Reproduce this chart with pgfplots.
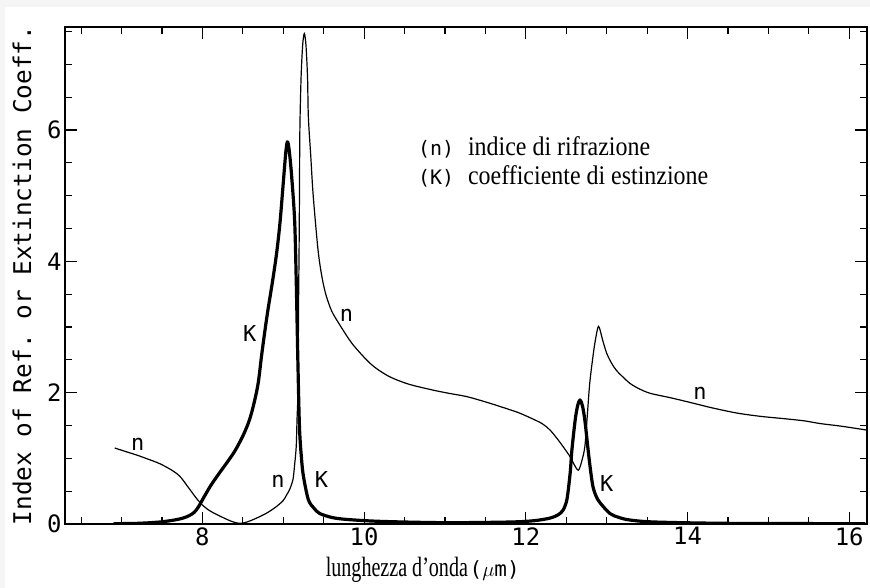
\documentclass[border=0pt]{standalone}
\usepackage{fontspec}
\setmainfont{Liberation Serif}
\setmonofont{DejaVu Sans Mono}
\usepackage{graphicx}
\usepackage{pgfplots}
\pgfplotsset{compat=1.18}

\pgfplotstableread{
x y
6.915 1.157
7.06 1.10
7.20 1.045
7.30 1.00
7.40 0.955
7.47 0.92
7.55 0.87
7.62 0.82
7.68 0.77
7.74 0.70
7.80 0.60
7.86 0.50
7.92 0.40
7.99 0.30
8.08 0.21
8.20 0.13
8.36 0.04
8.46 0.01
8.55 0.03
8.67 0.09
8.80 0.17
8.92 0.27
9.00 0.36
9.04 0.44
9.08 0.53
9.12 0.68
9.14 0.90
9.16 1.18
9.17 1.60
9.18 1.94
9.185 2.6
9.19 3.5
9.195 4.12
9.20 5.0
9.205 6.0
9.22 6.8
9.24 7.3
9.26 7.47
9.28 7.3
9.30 6.8
9.31 6.2
9.34 5.6
9.37 5.0
9.43 4.17
9.48 3.75
9.53 3.48
9.60 3.24
9.70 3.03
9.85 2.75
10.03 2.50
10.15 2.37
10.32 2.24
10.55 2.13
10.85 2.04
11.05 1.99
11.27 1.94
11.50 1.86
11.68 1.79
11.90 1.70
12.05 1.62
12.20 1.53
12.30 1.43
12.40 1.28
12.46 1.18
12.55 1.02
12.60 0.90
12.65 0.82
12.69 0.95
12.73 1.18
12.76 1.65
12.79 2.14
12.83 2.55
12.86 2.80
12.90 3.01
12.95 2.80
13.00 2.60
13.06 2.45
13.12 2.34
13.20 2.24
13.29 2.14
13.40 2.06
13.54 1.99
13.80 1.92
14.07 1.84
14.30 1.77
14.61 1.69
14.90 1.64
15.23 1.60
15.45 1.57
15.64 1.53
15.90 1.49
16.22 1.43
}\ndata

\pgfplotstableread{
x y
6.90 0.005
7.20 0.01
7.47 0.03
7.65 0.06
7.76 0.09
7.84 0.13
7.90 0.18
7.95 0.26
8.01 0.39
8.10 0.58
8.20 0.76
8.30 0.93
8.40 1.11
8.50 1.34
8.58 1.58
8.64 1.85
8.69 2.15
8.73 2.55
8.77 2.92
8.81 3.26
8.87 3.72
8.92 4.15
8.96 4.60
9.00 5.20
9.03 5.65
9.05 5.82
9.07 5.72
9.10 5.35
9.14 4.63
9.16 3.71
9.18 2.50
9.20 1.48
9.225 1.00
9.25 0.72
9.31 0.37
9.38 0.24
9.45 0.16
9.60 0.10
9.78 0.07
10.20 0.04
11.00 0.02
11.80 0.03
12.10 0.05
12.30 0.09
12.40 0.14
12.46 0.21
12.50 0.33
12.52 0.47
12.55 0.80
12.57 1.13
12.61 1.58
12.64 1.80
12.67 1.89
12.70 1.80
12.73 1.58
12.77 1.13
12.80 0.82
12.83 0.57
12.87 0.42
12.92 0.32
13.04 0.16
13.15 0.10
13.29 0.06
13.60 0.03
14.50 0.01
16.20 0.005
}\kdata

\begin{document}
\begin{tikzpicture}[x=1bp,y=1bp]
\fill[gray!8] (-65,-64) rectangle (805,524);
\fill[white] (-60,-64) rectangle (805,517);
\begin{axis}[
  scale only axis, width=802bp, height=497bp,
  xmin=6.3, xmax=16.22, ymin=0, ymax=7.57,
  xtick={8,10,12,14,16}, minor xtick={6.5,7,...,16},
  ytick={0,2,4,6}, minor ytick={0.5,1,...,7.5},
  tick align=inside, major tick length=12bp, minor tick length=7bp,
  every tick/.style={black, line width=1.2bp},
  axis line style={line width=1.6bp},
  tick label style={font=\ttfamily\fontsize{24}{24}\selectfont},
  /pgf/number format/assume math mode=true,
  ylabel={Index of Ref. or Extinction Coeff.},
  ylabel style={font=\ttfamily\fontsize{24.5}{24.5}\selectfont, at={(axis description cs:-0.0536,0.5)}, anchor=center},
  xlabel={\scalebox{0.72}[1]{\fontsize{28}{28}\selectfont lunghezza d’onda}\,{\ttfamily\fontsize{21}{21}\selectfont(}{\fontsize{22}{22}\selectfont$\mu$}{\ttfamily\fontsize{21}{21}\selectfont m)}},
  xlabel style={at={(axis description cs:0.446,0)}, anchor=base, yshift=-53bp},
]
\addplot[black, line width=1.2bp, smooth, tension=0.5] table {\ndata};
\addplot[black, line width=3.2bp, line join=round, smooth, tension=0.5] table {\kdata};

\begin{scope}[every node/.style={font=\ttfamily\fontsize{22}{22}\selectfont, inner sep=0pt}]
\node at (axis cs:7.20,1.21) {n};
\node at (axis cs:8.585,2.90) {K};
\node at (axis cs:8.935,0.644) {n};
\node at (axis cs:9.473,0.67) {K};
\node at (axis cs:9.78,3.18) {n};
\node at (axis cs:14.155,1.99) {n};
\node at (axis cs:13.0,0.62) {K};
\end{scope}

\node[anchor=base west, inner sep=0pt, font=\ttfamily\fontsize{20}{20}\selectfont] at (axis cs:10.665,5.62) {(n)};
\node[anchor=base west, inner sep=0pt, font=\ttfamily\fontsize{20}{20}\selectfont] at (axis cs:10.665,5.17) {(K)};
\node[anchor=base west, inner sep=0pt] at (axis cs:11.283,5.62) {\scalebox{0.89}[1]{\fontsize{27}{27}\selectfont indice di rifrazione}};
\node[anchor=base west, inner sep=0pt] at (axis cs:11.283,5.17) {\scalebox{0.89}[1]{\fontsize{27}{27}\selectfont coefficiente di estinzione}};
\end{axis}
\pgfresetboundingbox
\useasboundingbox (-65,-64) rectangle (805,524);
\end{tikzpicture}
\end{document}
